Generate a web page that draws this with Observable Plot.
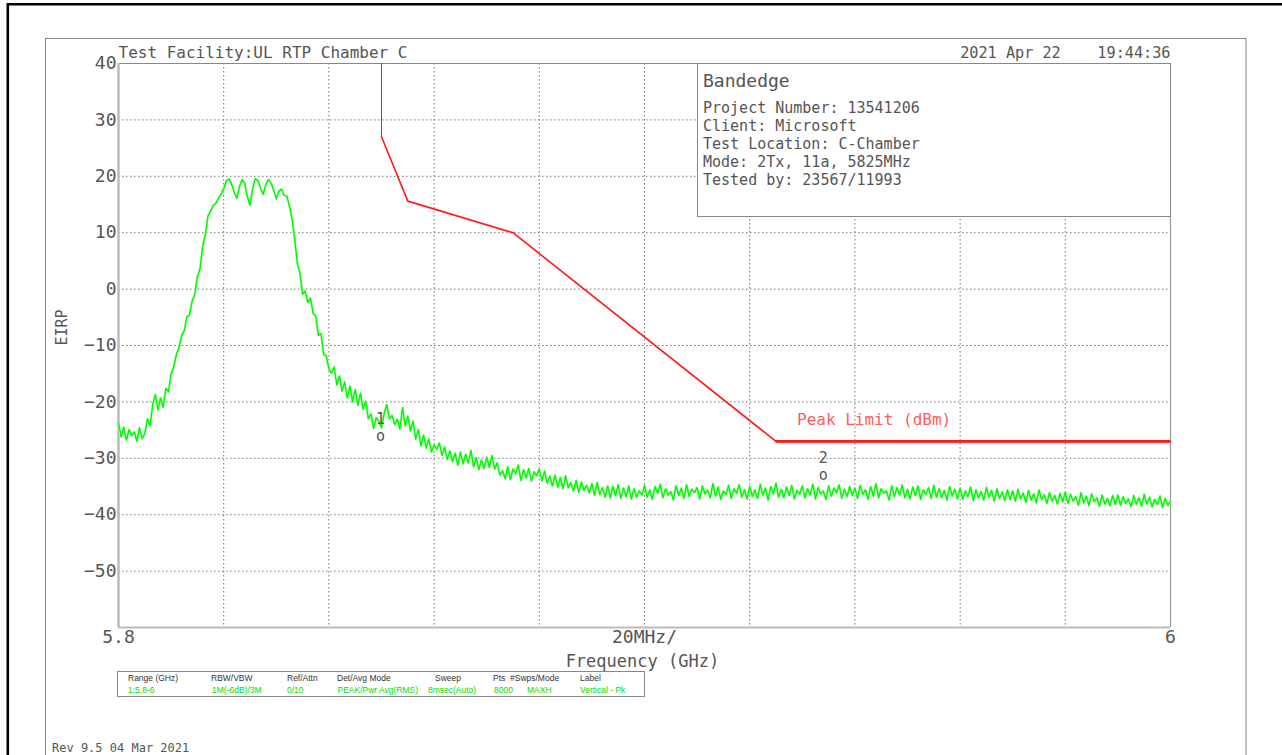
<!DOCTYPE html>
<html>
<head>
<meta charset="utf-8">
<script src="https://cdn.jsdelivr.net/npm/d3@7"></script>
<script src="https://cdn.jsdelivr.net/npm/@observablehq/plot@0.6"></script>
<style>
  body { margin: 0; background: #fff; }
  svg text { white-space: pre; }
</style>
</head>
<body>
<div id="chart"></div>
<script>
// ---- Data ----
const startGHz = 5.8;
const stepGHz = 0.0005; // one reading every 0.5 MHz
// Trace (EIRP, dBm), 20 readings per 10 MHz row
const traceRows = [
  [-23.8,-26.2,-24.5,-26.8,-24.9,-26.0,-25.3,-27.0,-24.6,-26.5,-25.6,-23.0,-24.2,-20.5,-18.7,-21.4,-19.3,-21.0,-17.6,-18.2],
  [-15.0,-13.8,-11.6,-10.4,-8.2,-7.4,-4.9,-4.6,-2.1,-1.0,2.2,3.6,7.5,9.6,12.9,13.8,14.8,15.2,16.1,16.9],
  [17.8,19.2,19.5,18.6,17.2,16.1,18.2,19.4,18.7,16.3,14.9,17.8,19.6,19.2,17.9,16.8,18.5,19.4,18.8,17.6],
  [16.0,17.4,17.7,16.6,16.5,14.7,12.4,8.9,4.6,2.8,-0.9,-0.3,-2.4,-1.6,-4.3,-4.8,-8.2,-7.9,-11.6,-11.8],
  [-14.2,-14.9,-13.8,-17.0,-15.4,-18.1,-16.5,-19.3,-17.2,-20.0,-17.8,-20.6,-18.5,-21.3,-19.9,-23.0,-22.1,-24.7,-22.8,-23.5],
  [-24.6,-22.1,-20.5,-23.0,-22.4,-24.0,-23.1,-24.8,-21.0,-24.2,-22.5,-25.1,-23.4,-26.6,-24.9,-27.8,-25.9,-28.2,-26.6,-28.9],
  [-27.6,-28.4,-27.3,-29.5,-28.0,-30.2,-28.7,-30.6,-29.1,-31.2,-28.9,-31.0,-29.3,-30.8,-28.6,-31.5,-29.9,-32.0,-30.3,-31.8],
  [-29.8,-31.6,-29.5,-31.9,-30.8,-33.0,-32.2,-33.6,-31.5,-33.8,-31.9,-32.7,-31.2,-33.9,-32.0,-33.5,-31.8,-34.0,-32.4,-33.1],
  [-31.9,-34.0,-32.3,-34.4,-33.2,-34.9,-33.0,-35.1,-33.4,-35.4,-33.1,-35.2,-34.3,-35.8,-33.9,-36.0,-34.2,-35.7,-34.8,-36.1],
  [-34.5,-36.5,-34.3,-36.4,-35.2,-36.9,-34.9,-37.0,-35.0,-36.6,-34.7,-37.1,-35.3,-36.8,-34.9,-37.2,-35.4,-36.9,-35.8,-36.5],
  [-34.8,-36.9,-35.6,-37.3,-35.0,-36.2,-34.6,-37.0,-35.4,-36.5,-35.9,-37.4,-34.9,-36.6,-35.3,-37.1,-34.7,-36.8,-35.5,-36.1],
  [-35.2,-37.2,-34.9,-36.3,-35.7,-37.0,-34.5,-36.7,-35.1,-37.3,-35.8,-36.4,-34.8,-37.1,-35.4,-36.2,-34.7,-36.9,-35.6,-37.2],
  [-35.0,-36.8,-35.6,-37.1,-34.6,-36.5,-35.3,-37.4,-35.0,-36.3,-34.4,-36.9,-35.5,-37.0,-35.1,-36.6,-34.8,-37.2,-35.7,-36.4],
  [-34.9,-37.0,-35.4,-36.5,-34.6,-37.2,-35.2,-36.3,-35.8,-37.3,-34.9,-36.7,-35.3,-36.1,-34.7,-37.1,-35.5,-36.8,-35.0,-36.6],
  [-35.3,-37.1,-34.8,-36.4,-35.6,-37.3,-35.0,-36.7,-34.5,-37.0,-35.4,-36.2,-35.8,-37.4,-34.9,-36.8,-35.2,-36.5,-34.7,-37.0],
  [-35.5,-37.2,-35.1,-36.6,-34.9,-37.3,-35.6,-36.4,-35.2,-37.1,-34.8,-36.9,-35.4,-37.0,-35.7,-37.4,-35.0,-36.7,-35.5,-37.2],
  [-35.3,-37.3,-35.8,-36.8,-35.1,-37.5,-35.6,-37.0,-35.9,-37.4,-35.2,-36.9,-35.7,-37.6,-35.4,-37.1,-36.0,-37.5,-35.6,-37.3],
  [-35.8,-37.6,-35.5,-37.2,-36.2,-37.8,-35.7,-37.4,-36.3,-37.9,-35.6,-37.3,-36.5,-38.0,-36.1,-37.6,-36.6,-38.1,-36.2,-37.7],
  [-36.0,-38.0,-36.4,-37.6,-36.8,-38.3,-36.1,-37.9,-36.7,-38.4,-36.3,-37.7,-37.0,-38.5,-36.5,-38.1,-37.1,-38.4,-36.6,-38.2],
  [-36.5,-38.3,-36.8,-38.0,-37.2,-38.6,-36.6,-38.2,-37.0,-38.5,-36.4,-38.1,-36.9,-38.6,-37.3,-38.2,-36.7,-38.7,-37.1,-38.3],
  [-37.6]
];
// Peak limit line (GHz, dBm)
const limitF = [5.85, 5.85, 5.855, 5.875, 5.925, 6.0];
const limitV = [40, 27, 15.6, 10, -27, -27];
const limitLabel = {f: 5.929, v: -23.1, text: "Peak Limit (dBm)"};
// Markers
const markerF = [5.8498, 5.934];
const markerNumV = [-23.0, -30.0];
const markerDotV = [-26.0, -33.0];
const markerText = ["1", "2"];
// Axes
const yTicks = [40, 30, 20, 10, 0, -10, -20, -30, -40, -50];
const yGrid = [30, 20, 10, 0, -10, -20, -30, -40, -50];
const xGrid = [5.82, 5.84, 5.86, 5.88, 5.90, 5.92, 5.94, 5.96, 5.98];
const xTickF = [5.8, 5.9, 6.0];
const xTickText = ["5.8", "20MHz/", "6"];
const titleLeft = "Test Facility:UL RTP Chamber C";
const titleRight = "2021 Apr 22    19:44:36";
const xLabel = "Frequency (GHz)";
const yLabel = "EIRP";
const infoTitle = "Bandedge";
const infoLines = ["Project Number: 13541206", "Client: Microsoft", "Test Location: C-Chamber", "Mode: 2Tx, 11a, 5825MHz", "Tested by: 23567/11993"];
const tableHeaders = ["Range (GHz)", "RBW/VBW", "Ref/Attn", "Det/Avg Mode", "Sweep", "Pts", "#Swps/Mode", "Label"];
const tableValues = ["1:5.8-6", "1M(-6dB)/3M", "0/10", "PEAK/Pwr Avg(RMS)", "8msec(Auto)", "8000", "MAXH", "Vertical - Pk"];
const revText = "Rev 9.5 04 Mar 2021";

// ---- Build tables ----
const traceV = traceRows.flat();
const trace = traceV.map((v, i) => ({f: startGHz + i * stepGHz, v}));
const limit = limitF.map((f, i) => ({f, v: limitV[i]}));
const markers = markerF.map((f, i) => ({f, n: markerNumV[i], d: markerDotV[i], t: markerText[i]}));
const xTicks = xTickF.map((f, i) => ({f, t: xTickText[i]}));

const mono = "'DejaVu Sans Mono', monospace";
const gray = "#555";

const plot = Plot.plot({
  width: 1282,
  height: 755,
  marginLeft: 118,
  marginRight: 112,
  marginTop: 63,
  marginBottom: 128,
  x: {domain: [5.8, 6.0], axis: null},
  y: {domain: [-60, 40]},
  style: {fontFamily: mono, background: "#fff", overflow: "visible", color: gray},
  marks: [
    Plot.gridY(yGrid, {stroke: "#777", strokeOpacity: 1, strokeDasharray: "1.5,2.5"}),
    Plot.gridX(xGrid, {stroke: "#777", strokeOpacity: 1, strokeDasharray: "1.5,2.5"}),
    Plot.ruleY([40], {stroke: "#888", strokeWidth: 1}),
    Plot.ruleX([6.0], {stroke: "#999", strokeWidth: 1.2}),
    Plot.ruleY([-60], {stroke: "#bbb", strokeWidth: 2}),
    Plot.ruleX([5.8], {stroke: "#bbb", strokeWidth: 2.5}),
    Plot.axisY(yTicks, {tickSize: 0, tickPadding: 2, fontSize: 18, fill: gray, label: null, fontFamily: mono}),
    Plot.text(xTicks, {x: "f", text: "t", frameAnchor: "bottom", dy: 15, fontSize: 18, fill: gray}),
    Plot.text([xLabel], {x: 5.8996, frameAnchor: "bottom", dy: 39, fontSize: 17, fill: gray}),
    Plot.text([yLabel], {y: -10, frameAnchor: "left", dx: -56, rotate: -90, fontSize: 15, fill: gray}),
    Plot.text([titleLeft], {frameAnchor: "top-left", dy: -6, lineAnchor: "bottom", textAnchor: "start", fontSize: 16, fill: gray}),
    Plot.text([titleRight], {frameAnchor: "top-right", dy: -6, lineAnchor: "bottom", textAnchor: "end", fontSize: 15.2, fill: gray}),
    Plot.line(trace, {x: "f", y: "v", stroke: "#8dff8d", strokeWidth: 2.2}),
    Plot.line(trace, {x: "f", y: "v", stroke: "#00f500", strokeWidth: 1.2}),
    Plot.ruleX([limitF[0]], {y1: limitV[0], y2: limitV[1], stroke: "#ff1a1a", strokeWidth: 1}),
    Plot.line(limit.slice(1), {x: "f", y: "v", stroke: "#ff1a1a", strokeWidth: 1.6}),
    Plot.ruleY([limitV[4]], {x1: limitF[4], x2: limitF[5], stroke: "#ff1a1a", strokeWidth: 2.6}),
    Plot.text([limitLabel], {x: "f", y: "v", text: "text", textAnchor: "start", fontSize: 16, fill: "#ff5c5c"}),
    Plot.text(markers, {x: "f", y: "n", text: "t", fontSize: 15, fill: gray}),
    Plot.text(markers, {x: "f", y: "d", text: () => "o", fontSize: 15, fill: gray})
  ]
});

document.getElementById("chart").appendChild(plot);

// ---- Page decorations (instrument report frame) ----
const svg = d3.select(plot);
const deco = svg.append("g").attr("text-anchor", "start");
// outer black frame
deco.append("path").attr("d", "M7.8,760 V4.2 H1290").attr("fill", "none").attr("stroke", "#000").attr("stroke-width", 2.6);
// gray page box
deco.append("rect").attr("x", 45.5).attr("y", 38.5).attr("width", 1200.5).attr("height", 760)
  .attr("fill", "none").attr("stroke", "#888").attr("stroke-width", 1);
// info box
deco.append("rect").attr("x", 697.5).attr("y", 63.5).attr("width", 473).attr("height", 153)
  .attr("fill", "#fff").attr("stroke", "#888").attr("stroke-width", 1);
deco.append("text").attr("x", 703).attr("y", 87).attr("font-family", mono).attr("font-size", 18).attr("fill", gray).text(infoTitle);
infoLines.forEach((t, i) => {
  deco.append("text").attr("x", 703).attr("y", 113 + i * 18).attr("font-family", mono).attr("font-size", 15).attr("fill", gray).text(t);
});
// settings table
deco.append("rect").attr("x", 117.5).attr("y", 671.5).attr("width", 527).attr("height", 25)
  .attr("fill", "none").attr("stroke", "#888").attr("stroke-width", 1);
const headerX = [128, 211, 287, 337, 435, 493, 510, 580];
const valueX = [128, 212, 287, 337.5, 428, 494, 527, 580];
const tbl = deco.append("g").attr("font-family", "'Liberation Sans', Arial, sans-serif").attr("font-size", 8.5);
tableHeaders.forEach((t, i) => tbl.append("text").attr("x", headerX[i]).attr("y", 681).attr("fill", "#333").text(t));
const clip = svg.append("clipPath").attr("id", "tblclip");
clip.append("rect").attr("x", 118).attr("y", 672).attr("width", 526).attr("height", 24);
const vals = tbl.append("g").attr("clip-path", "url(#tblclip)");
tableValues.forEach((t, i) => vals.append("text").attr("x", valueX[i]).attr("y", 693).attr("fill", "#00dd00").text(t));
// revision note
deco.append("text").attr("x", 52).attr("y", 752).attr("font-family", mono).attr("font-size", 12).attr("fill", gray).text(revText);
</script>
</body>
</html>
